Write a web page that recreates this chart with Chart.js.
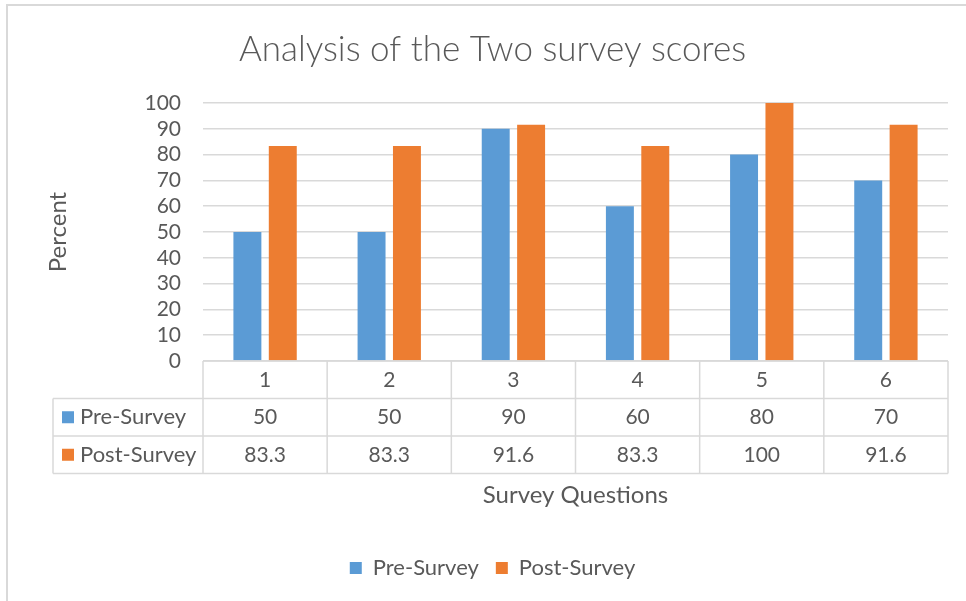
<!DOCTYPE html>
<html>
<head>
<meta charset="utf-8">
<script src="https://cdn.jsdelivr.net/npm/chart.js"></script>
<style>
  html, body { margin: 0; padding: 0; background: #fff; }
  canvas { display: block; }
</style>
</head>
<body>
<canvas id="graficoSurvey" width="966" height="601"></canvas>
<script>
// ====== DADOS ======
const perguntas = ['1', '2', '3', '4', '5', '6'];
const preSurvey = [50, 50, 90, 60, 80, 70];
const postSurvey = [83.3, 83.3, 91.6, 83.3, 100, 91.6];
const nomesSeries = ['Pre-Survey', 'Post-Survey'];
const coresSeries = ['#5B9BD5', '#ED7D31'];

const FONTE = 'Lato, "Open Sans", sans-serif';
const CINZA_TXT = '#595959';
const CINZA_LINHA = '#D9D9D9';

// ====== PLUGIN: moldura + tabela de dados ======
const tabelaDados = {
  id: 'tabelaDados',
  beforeDraw(chart) {
    const ctx = chart.ctx;
    ctx.save();
    ctx.strokeStyle = CINZA_LINHA;
    ctx.lineWidth = 2;
    ctx.beginPath();
    ctx.moveTo(7, chart.height);
    ctx.lineTo(7, 5);
    ctx.lineTo(chart.width, 5);
    ctx.stroke();
    ctx.restore();
  },
  afterDraw(chart) {
    const ctx = chart.ctx;
    const xs = chart.scales.x;
    const n = perguntas.length;
    const larg = (xs.right - xs.left) / n;
    const topo = chart.chartArea.bottom;
    const alt = 37.5;
    const esq = 53;
    const linhas = [preSurvey, postSurvey];

    ctx.save();
    ctx.strokeStyle = CINZA_LINHA;
    ctx.lineWidth = 1.5;
    ctx.beginPath();
    ctx.moveTo(xs.left, topo);
    ctx.lineTo(xs.right, topo);
    for (let r = 1; r <= 3; r++) {
      ctx.moveTo(esq, topo + r * alt);
      ctx.lineTo(xs.right, topo + r * alt);
    }
    for (let i = 0; i <= n; i++) {
      ctx.moveTo(xs.left + i * larg, topo);
      ctx.lineTo(xs.left + i * larg, topo + 3 * alt);
    }
    ctx.moveTo(esq, topo + alt);
    ctx.lineTo(esq, topo + 3 * alt);
    ctx.stroke();

    ctx.fillStyle = CINZA_TXT;
    ctx.font = '21px ' + FONTE;
    ctx.textAlign = 'center';
    ctx.textBaseline = 'middle';
    perguntas.forEach((p, i) => {
      ctx.fillText(p, xs.getPixelForValue(i), topo + alt / 2);
    });
    linhas.forEach((serie, r) => {
      const y = topo + alt * (r + 1) + alt / 2;
      ctx.font = '21px ' + FONTE;
      serie.forEach((v, i) => {
        ctx.fillText(String(v), xs.getPixelForValue(i), y);
      });
      ctx.fillStyle = coresSeries[r];
      ctx.fillRect(62, y - 6, 12, 12);
      ctx.fillStyle = CINZA_TXT;
      ctx.textAlign = 'left';
      ctx.font = '22px ' + FONTE;
      ctx.fillText(nomesSeries[r], 80, y);
      ctx.textAlign = 'center';
    });
    ctx.restore();
  }
};

// ====== GRAFICO ======
const ctx = document.getElementById('graficoSurvey').getContext('2d');
const chart = new Chart(ctx, {
  type: 'bar',
  data: {
    labels: perguntas,
    datasets: [
      { label: nomesSeries[0], data: preSurvey, backgroundColor: coresSeries[0] },
      { label: nomesSeries[1], data: postSurvey, backgroundColor: coresSeries[1] },
    ],
  },
  options: {
    responsive: false,
    animation: false,
    categoryPercentage: 0.57,
    barPercentage: 0.79,
    layout: { padding: { left: 37, right: 18, top: 0, bottom: 12 } },
    plugins: {
      title: {
        display: true,
        text: 'Analysis of the Two survey scores',
        color: CINZA_TXT,
        font: { size: 35, family: FONTE, weight: '300' },
        padding: { top: 29, bottom: 32 },
      },
      legend: {
        position: 'bottom',
        labels: {
          color: CINZA_TXT,
          font: { size: 22, family: FONTE },
          boxWidth: 12,
          boxHeight: 12,
          padding: 17,
        },
      },
      tooltip: { enabled: false },
    },
    scales: {
      x: {
        grid: { display: false },
        border: { display: false },
        ticks: { display: false },
        title: {
          display: true,
          text: 'Survey Questions',
          color: CINZA_TXT,
          font: { size: 24, family: FONTE },
          padding: { top: 0, bottom: 30 },
        },
        afterFit: s => { s.height = 179; },
      },
      y: {
        min: 0,
        max: 100,
        grid: { color: CINZA_LINHA, lineWidth: 1.5, drawTicks: false },
        border: { display: false },
        ticks: {
          stepSize: 10,
          autoSkip: false,
          padding: 22,
          color: CINZA_TXT,
          font: { size: 21, family: FONTE },
        },
        title: {
          display: true,
          text: 'Percent',
          color: CINZA_TXT,
          font: { size: 24, family: FONTE },
          padding: { top: 7, bottom: 0 },
        },
        afterFit: s => { s.width = 166; },
      },
    },
  },
  plugins: [tabelaDados],
});
</script>
</body>
</html>
